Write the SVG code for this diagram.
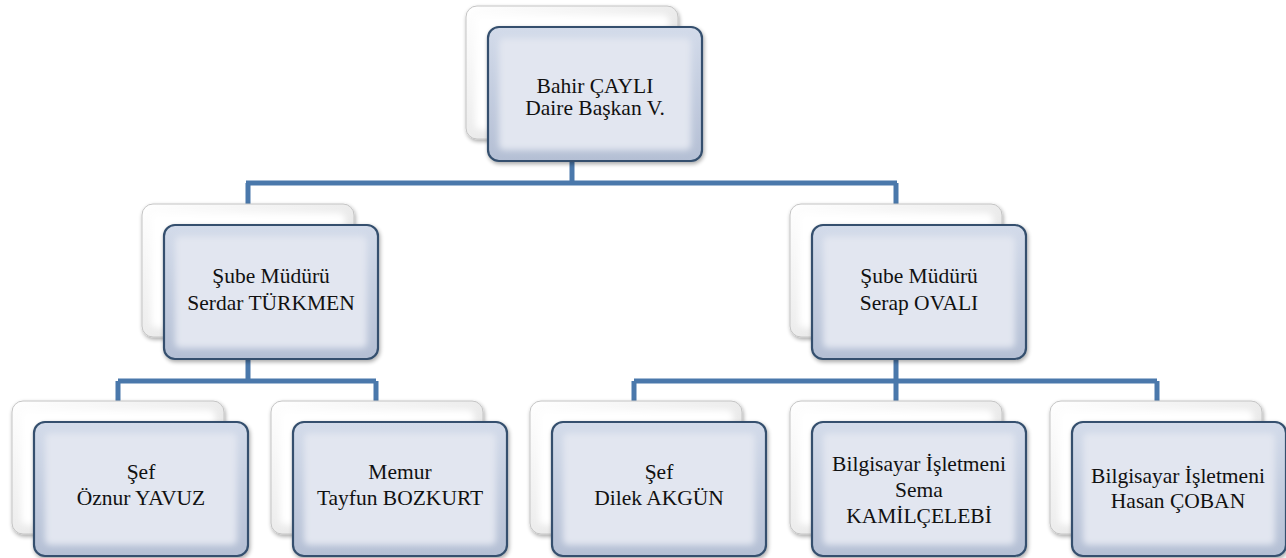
<svg xmlns="http://www.w3.org/2000/svg" width="1286" height="558" viewBox="0 0 1286 558">
<defs>
<linearGradient id="gBack" x1="0" y1="0" x2="1" y2="1">
<stop offset="0" stop-color="#ffffff"/><stop offset="1" stop-color="#d9d9d9"/>
</linearGradient>
<linearGradient id="gFront" x1="0" y1="0" x2="0" y2="1">
<stop offset="0" stop-color="#d3dbea"/><stop offset="1" stop-color="#b4bfd4"/>
</linearGradient>
<filter id="blur" x="-10%" y="-10%" width="120%" height="120%"><feGaussianBlur stdDeviation="3"/></filter>
<filter id="shadow" x="-10%" y="-10%" width="130%" height="130%">
<feGaussianBlur in="SourceAlpha" stdDeviation="2"/><feOffset dx="1" dy="2"/>
<feComponentTransfer><feFuncA type="linear" slope="0.35"/></feComponentTransfer>
<feMerge><feMergeNode/><feMergeNode in="SourceGraphic"/></feMerge>
</filter>
<g id="card">
<g filter="url(#shadow)">
<rect x="0" y="0" width="212" height="133" rx="11" fill="url(#gBack)" stroke="#c4c4c4" stroke-width="1"/>
<rect x="9" y="9" width="194" height="115" rx="6" fill="#ffffff" filter="url(#blur)"/>
</g>
<g filter="url(#shadow)">
<rect x="22" y="21" width="214" height="134" rx="11" fill="url(#gFront)" stroke="#34506e" stroke-width="2.2"/>
<rect x="33" y="32" width="192" height="112" rx="5" fill="#e2e6f0" filter="url(#blur)"/>
</g>
</g>
</defs>
<style>
.c{fill:none;stroke:#4a78ab;stroke-width:5;stroke-linejoin:miter}
text{font-family:'Liberation Serif','Times New Roman',serif;font-size:21.5px;fill:#111111;text-anchor:middle}
</style>
<g id="connectors">
<path class="c" d="M572,160 V183 M246,183 H897 M248,183 V204 M896,183 V204"/>
<path class="c" d="M248,355 V381 M118,381 H376 M118,381 V401 M376,381 V401"/>
<path class="c" d="M896,355 V381 M634,381 H1157 M634,381 V401 M896,381 V401 M1157,381 V401"/>
</g>
<g id="n-top">
<use href="#card" x="466" y="6"/>
<text x="595" y="93">Bahir ÇAYLI</text>
<text x="595" y="115">Daire Başkan V.</text>
</g>
<g id="n-mid-left">
<use href="#card" x="142" y="204"/>
<text x="271" y="283">Şube Müdürü</text>
<text x="271" y="310">Serdar TÜRKMEN</text>
</g>
<g id="n-mid-right">
<use href="#card" x="790" y="204"/>
<text x="919" y="283">Şube Müdürü</text>
<text x="919" y="310">Serap OVALI</text>
</g>
<g id="n-b1">
<use href="#card" x="12" y="401"/>
<text x="141" y="479">Şef</text>
<text x="141" y="505">Öznur YAVUZ</text>
</g>
<g id="n-b2">
<use href="#card" x="271" y="401"/>
<text x="400" y="479">Memur</text>
<text x="400" y="505">Tayfun BOZKURT</text>
</g>
<g id="n-b3">
<use href="#card" x="530" y="401"/>
<text x="659" y="479">Şef</text>
<text x="659" y="505">Dilek AKGÜN</text>
</g>
<g id="n-b4">
<use href="#card" x="790" y="401"/>
<text x="919" y="471">Bilgisayar İşletmeni</text>
<text x="919" y="497">Sema</text>
<text x="919" y="523">KAMİLÇELEBİ</text>
</g>
<g id="n-b5">
<use href="#card" x="1050" y="401"/>
<text x="1178" y="483">Bilgisayar İşletmeni</text>
<text x="1178" y="508">Hasan ÇOBAN</text>
</g>
</svg>
